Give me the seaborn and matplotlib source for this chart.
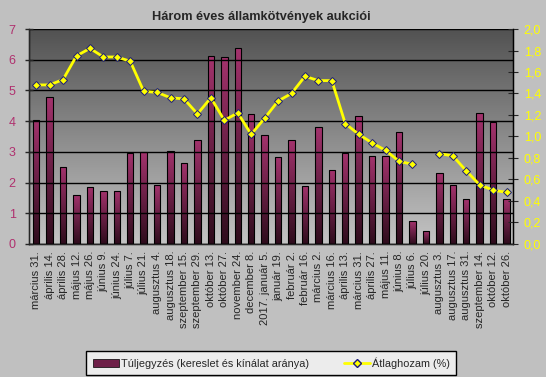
import numpy as np
import pandas as pd
import matplotlib
matplotlib.use("Agg")
import matplotlib.pyplot as plt
from matplotlib.colors import LinearSegmentedColormap
from matplotlib.lines import Line2D
from matplotlib.patches import Patch
import seaborn as sns

# Data
dates = ["március 31.", "április 14.", "április 28.", "május 12.", "május 26.",
         "június 9.", "június 24.", "július 7.", "július 21.", "augusztus 4.",
         "augusztus 18.", "szeptember 15.", "szeptember 29.", "október 13.",
         "október 27.", "november 24.", "december 8.", "2017. január 5.",
         "január 19.", "február 2.", "február 16.", "március 2.", "március 16.",
         "április 13.", "március 31.", "április 27.", "május 11.", "június 8.",
         "július 6.", "július 20.", "augusztus 3.", "augusztus 17.",
         "augusztus 31.", "szeptember 14.", "október 12.", "október 26."]

oversub = [4.04, 4.78, 2.51, 1.60, 1.86, 1.73, 1.73, 2.96, 2.99, 1.92,
           3.03, 2.64, 3.39, 6.11, 6.08, 6.37, 4.22, 3.54, 2.82, 3.38,
           1.89, 3.80, 2.40, 2.96, 4.16, 2.86, 2.86, 3.64, 0.74, 0.42,
           2.30, 1.92, 1.45, 4.26, 3.96, 1.45]

yields = [1.48, 1.48, 1.53, 1.75, 1.82, 1.74, 1.74, 1.70, 1.42, 1.41,
          1.36, 1.35, 1.21, 1.36, 1.15, 1.22, 1.02, 1.17, 1.33, 1.40,
          1.56, 1.52, 1.52, 1.12, 1.02, 0.94, 0.87, 0.77, 0.74, np.nan,
          0.84, 0.82, 0.68, 0.55, 0.50, 0.48]

df = pd.DataFrame({"idx": np.arange(len(dates)), "bid": oversub, "yield": yields})

bg = "#c0c0c0"
bar_top = "#a3336d"
bar_bot = "#2e0c1c"
label_red = "#b0306e"

sns.set_style("white")
plt.rcParams["font.family"] = ["Liberation Sans", "DejaVu Sans"]

fig = plt.figure(figsize=(5.46, 3.77), dpi=100, facecolor=bg)
ax = fig.add_axes([0.054, 0.353, 0.886, 0.570])
ax.set_facecolor("none")

# plot area gradient
grad = np.linspace(0, 1, 256).reshape(-1, 1)
area_cmap = LinearSegmentedColormap.from_list("area", ["#525252", "#c4c4c4"])
ax.imshow(grad, cmap=area_cmap, aspect="auto", extent=[0, 1, 0, 1],
          transform=ax.transAxes, zorder=0)

sns.barplot(data=df, x="idx", y="bid", color=bar_top, width=0.48,
            edgecolor="black", linewidth=0.8, ax=ax, zorder=2)

# gradient fill inside bars
bar_cmap = LinearSegmentedColormap.from_list("bar", [bar_top, bar_bot])
for p in ax.patches:
    x0, w, h = p.get_x(), p.get_width(), p.get_height()
    im = ax.imshow(grad, cmap=bar_cmap, aspect="auto",
                   extent=[x0, x0 + w, 0, h], zorder=2.5)
    im.set_clip_path(p)
    p.set_facecolor("none")
    p.set_zorder(3)

n = len(dates)
ax.set_xlim(-0.5, n - 0.5)
ax.set_ylim(0, 7)
ax.set_yticks(range(8))
ax.tick_params(axis="y", length=6, direction="inout", width=1,
               labelcolor=label_red, labelsize=9, pad=7)
ax.grid(axis="y", color="black", linewidth=1)
ax.set_axisbelow(False)
for gl in ax.get_ygridlines():
    gl.set_zorder(1)
ax.set_xticks(range(n))
ax.set_xticklabels(dates, rotation=90, fontsize=8)
ax.set_xticks(np.arange(-0.5, n, 1), minor=True)
ax.tick_params(axis="x", which="major", length=0, pad=5)
ax.tick_params(axis="x", which="minor", length=6, direction="inout", width=1)
ax.set_xlabel("")
ax.set_ylabel("")
ax.spines["top"].set_visible(False)
for s in ["left", "bottom", "right"]:
    ax.spines[s].set_color("black")
    ax.spines[s].set_linewidth(1)

ax2 = ax.twinx()
ax2.plot(df["idx"], df["yield"], color="#ffff00", linewidth=2, marker="D",
         markersize=4.5, markerfacecolor="#ffff00", markeredgecolor="#1c1c7a",
         markeredgewidth=0.7, zorder=5)
ax2.set_ylim(0, 2.0)
ax2.set_yticks(np.arange(0, 2.01, 0.2))
ax2.set_yticklabels([f"{v:.1f}".replace(".", ",") for v in np.arange(0, 2.01, 0.2)])
ax2.tick_params(axis="y", direction="inout", length=7, labelcolor="#ffff00",
                labelsize=9, pad=4)
ax2.spines["top"].set_visible(False)
ax2.spines["right"].set_color("black")

fig.suptitle("Három éves államkötvények aukciói", fontsize=9.2, fontweight="bold",
             y=0.97, x=0.478)

handles = [Patch(facecolor="#6e1f48", edgecolor="black", linewidth=0.5),
           Line2D([0], [0], color="#ffff00", linewidth=2, marker="D", markersize=4,
                  markerfacecolor="#ffff00", markeredgecolor="#1c1c7a")]
leg = fig.legend(handles, ["Túljegyzés (kereslet és kínálat aránya)", "Átlaghozam (%)"],
                 loc="center", bbox_to_anchor=(0.497, 0.037), ncol=2, fontsize=7.8,
                 frameon=True, fancybox=False, edgecolor="black", facecolor="#ececec",
                 framealpha=1, handlelength=2.4, handletextpad=0.2, columnspacing=3.2,
                 borderpad=0.6)
leg.get_frame().set_linewidth(1)

fig.savefig("out.png", dpi=100, facecolor=bg)
